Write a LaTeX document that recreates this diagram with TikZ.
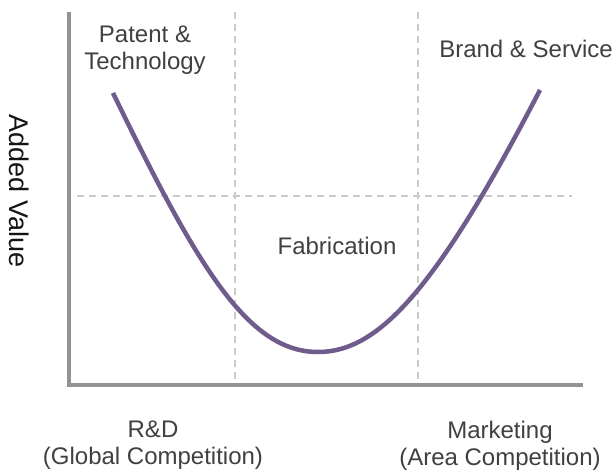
\documentclass[tikz,border=0pt]{standalone}
\usepackage{fontspec}
\setmainfont{Liberation Sans}
\begin{document}
\definecolor{axisgray}{HTML}{939393}
\definecolor{gridgray}{HTML}{CACACA}
\definecolor{curvepurple}{HTML}{6F5B8C}
\definecolor{labelgray}{HTML}{404040}
\begin{tikzpicture}[x=1pt,y=-1pt,
  axisline/.style={draw=axisgray,line width=4pt},
  gridline/.style={draw=gridgray,line width=1.3pt,dash pattern=on 7pt off 5pt},
  valuecurve/.style={draw=curvepurple,line width=4.5pt},
  lbl/.style={text=labelgray,font=\fontsize{24}{27}\selectfont,align=center,inner sep=0pt},
  ylbl/.style={text=black!92,font=\fontsize{27}{30}\selectfont,inner sep=0pt,rotate=-90}]
\useasboundingbox (0,0) rectangle (615,470);
% axes
\coordinate (top) at (69,12);
\coordinate (origin) at (69,385);
\coordinate (right) at (583,385);
% guide lines
\coordinate (v1t) at (235,12);
\coordinate (v1b) at (235,382);
\coordinate (v2t) at (418,12);
\coordinate (v2b) at (418,382);
\coordinate (hl) at (77,196);
\coordinate (hr) at (572,196);
\draw[gridline] (v1t) -- (v1b);
\draw[gridline] (v2t) -- (v2b);
\draw[gridline] (hl) -- (hr);
\draw[axisline] (top) -- (origin) -- (right);
% smile curve
\coordinate (cstart) at (113,93);
\coordinate (cbottom) at (318,352);
\coordinate (cend) at (540,90);
\draw[valuecurve] (cstart) .. controls (198,268) and (248,352) .. (cbottom)
  .. controls (378,352) and (435.5,291.4) .. (cend);
% labels
\node[lbl] (patent) at (145,50) {Patent \&\\Technology};
\node[lbl] (brand) at (526,49) {Brand \& Service};
\node[lbl] (fab) at (337,246) {Fabrication};
\node[lbl] (rd) at (153,445) {R\&D\\(Global Competition)};
\node[lbl] (mkt) at (500,446) {Marketing\\(Area Competition)};
\node[ylbl] (yaxis) at (19,191) {Added Value};
\end{tikzpicture}
\end{document}
